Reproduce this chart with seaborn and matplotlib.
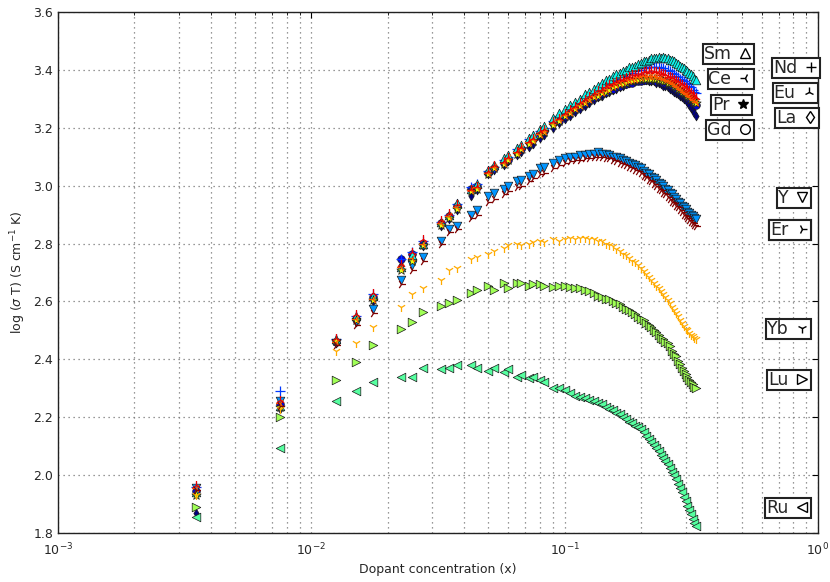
import matplotlib
matplotlib.use("Agg")
import matplotlib.pyplot as plt
from matplotlib.lines import Line2D
from matplotlib.ticker import MultipleLocator
import pandas as pd
import seaborn as sns

# Dopant concentrations (mole fraction)
x_low = [0.0035, 0.0075, 0.0125, 0.015, 0.0175, 0.0225, 0.025, 0.0275,
         0.0325, 0.035, 0.0375, 0.0425, 0.045]
x_dense = [0.050, 0.0525, 0.0575, 0.060, 0.065, 0.0675, 0.0725, 0.075, 0.080, 0.0825, 0.090, 0.095,
           0.100, 0.105, 0.110, 0.115, 0.120, 0.125, 0.130, 0.135, 0.140, 0.145,
           0.150, 0.155, 0.160, 0.165, 0.170, 0.175, 0.180, 0.185, 0.190, 0.195,
           0.200, 0.205, 0.210, 0.215, 0.220, 0.225, 0.230, 0.235, 0.240, 0.245,
           0.250, 0.255, 0.260, 0.265, 0.270, 0.275, 0.280, 0.285, 0.290, 0.295,
           0.300, 0.305, 0.310, 0.315, 0.320, 0.325, 0.330]
conc = x_low + x_dense

# log(sigma*T) for each dopant
la = [1.87, 2.23, 2.455, 2.53, 2.60, 2.725, 2.75, 2.79, 2.86, 2.885, 2.915, 2.965, 2.985,
      3.04, 3.055, 3.07, 3.085, 3.105, 3.115, 3.135, 3.145, 3.165, 3.175, 3.20, 3.215,
      3.23, 3.24, 3.255, 3.265, 3.275, 3.285, 3.295, 3.305, 3.31, 3.32,
      3.325, 3.33, 3.335, 3.34, 3.345, 3.35, 3.355, 3.36, 3.36, 3.365,
      3.365, 3.365, 3.365, 3.36, 3.36, 3.36, 3.355, 3.355, 3.35, 3.345,
      3.345, 3.34, 3.335, 3.33, 3.325, 3.32, 3.315, 3.31, 3.305, 3.30,
      3.295, 3.29, 3.28, 3.27, 3.26, 3.25, 3.24]
gd = [1.945, 2.245, 2.46, 2.54, 2.615, 2.745, 2.765, 2.80, 2.87, 2.895, 2.93, 2.99, 3.00,
      3.045, 3.06, 3.08, 3.09, 3.115, 3.125, 3.15, 3.16, 3.18, 3.19, 3.215, 3.225,
      3.24, 3.255, 3.265, 3.275, 3.285, 3.295, 3.305, 3.31, 3.32, 3.325,
      3.33, 3.335, 3.34, 3.345, 3.35, 3.35, 3.355, 3.355, 3.36, 3.36,
      3.36, 3.365, 3.365, 3.365, 3.365, 3.365, 3.36, 3.36, 3.36, 3.355,
      3.355, 3.35, 3.35, 3.345, 3.34, 3.335, 3.33, 3.325, 3.32, 3.315,
      3.31, 3.305, 3.30, 3.295, 3.29, 3.285, 3.28]
nd = [1.96, 2.29, 2.47, 2.55, 2.625, 2.745, 2.77, 2.81, 2.875, 2.90, 2.935, 2.995, 3.005,
      3.05, 3.065, 3.09, 3.10, 3.125, 3.135, 3.16, 3.17, 3.19, 3.20, 3.225, 3.24,
      3.255, 3.27, 3.28, 3.29, 3.305, 3.315, 3.32, 3.33, 3.34, 3.35,
      3.355, 3.36, 3.37, 3.375, 3.38, 3.385, 3.39, 3.39, 3.395, 3.40,
      3.40, 3.405, 3.405, 3.41, 3.41, 3.41, 3.41, 3.41, 3.405, 3.405,
      3.40, 3.40, 3.395, 3.39, 3.385, 3.38, 3.375, 3.37, 3.365, 3.36,
      3.355, 3.35, 3.345, 3.34, 3.33, 3.325, 3.32]
y_ = [1.955, 2.255, 2.455, 2.53, 2.575, 2.675, 2.725, 2.755, 2.81, 2.85, 2.86, 2.90, 2.915,
      2.965, 2.975, 2.99, 3.00, 3.015, 3.02, 3.035, 3.04, 3.06, 3.065, 3.08, 3.09,
      3.095, 3.10, 3.10, 3.105, 3.105, 3.11, 3.11, 3.115, 3.11, 3.11,
      3.105, 3.10, 3.10, 3.095, 3.09, 3.085, 3.08, 3.075, 3.07, 3.065,
      3.06, 3.05, 3.045, 3.04, 3.03, 3.025, 3.02, 3.01, 3.005, 3.00,
      2.99, 2.985, 2.975, 2.97, 2.96, 2.955, 2.945, 2.94, 2.93, 2.925,
      2.92, 2.91, 2.905, 2.90, 2.895, 2.89, 2.885]
sm = [1.94, 2.24, 2.47, 2.55, 2.62, 2.72, 2.76, 2.80, 2.875, 2.90, 2.94, 2.99, 3.005,
      3.055, 3.07, 3.095, 3.105, 3.13, 3.14, 3.165, 3.175, 3.195, 3.205, 3.235, 3.25,
      3.265, 3.28, 3.29, 3.30, 3.315, 3.325, 3.335, 3.345, 3.355, 3.365,
      3.37, 3.38, 3.385, 3.39, 3.395, 3.40, 3.41, 3.41, 3.415, 3.42,
      3.425, 3.43, 3.43, 3.435, 3.44, 3.44, 3.44, 3.445, 3.44, 3.445,
      3.44, 3.44, 3.435, 3.435, 3.43, 3.425, 3.42, 3.415, 3.41, 3.405,
      3.40, 3.395, 3.39, 3.385, 3.38, 3.37, 3.365]
ru = [1.855, 2.095, 2.255, 2.29, 2.32, 2.34, 2.34, 2.37, 2.365, 2.37, 2.38, 2.38, 2.37,
      2.36, 2.37, 2.355, 2.365, 2.34, 2.345, 2.335, 2.34, 2.33, 2.32, 2.30, 2.30,
      2.295, 2.285, 2.275, 2.27, 2.265, 2.26, 2.255, 2.25, 2.245, 2.235,
      2.23, 2.225, 2.215, 2.21, 2.20, 2.195, 2.185, 2.18, 2.17, 2.165,
      2.16, 2.15, 2.135, 2.125, 2.115, 2.105, 2.095, 2.085, 2.07, 2.06,
      2.05, 2.04, 2.025, 2.01, 2.00, 1.985, 1.97, 1.955, 1.94, 1.925,
      1.91, 1.895, 1.88, 1.865, 1.85, 1.835, 1.825]
lu = [1.89, 2.20, 2.33, 2.39, 2.45, 2.505, 2.53, 2.565, 2.585, 2.595, 2.605, 2.63, 2.64,
      2.655, 2.64, 2.665, 2.645, 2.665, 2.665, 2.655, 2.66, 2.66, 2.655, 2.65, 2.655,
      2.655, 2.65, 2.645, 2.645, 2.64, 2.635, 2.63, 2.62, 2.615, 2.61,
      2.61, 2.60, 2.595, 2.59, 2.58, 2.575, 2.57, 2.565, 2.555, 2.545,
      2.54, 2.535, 2.525, 2.52, 2.51, 2.50, 2.495, 2.485, 2.475, 2.47,
      2.46, 2.455, 2.445, 2.43, 2.42, 2.41, 2.395, 2.385, 2.37, 2.36,
      2.35, 2.34, 2.33, 2.32, 2.315, 2.305, 2.30]
pr = [1.93, 2.235, 2.465, 2.535, 2.605, 2.71, 2.74, 2.795, 2.865, 2.89, 2.92, 2.98, 2.99,
      3.04, 3.06, 3.075, 3.09, 3.11, 3.125, 3.145, 3.155, 3.175, 3.185, 3.21, 3.225,
      3.24, 3.25, 3.265, 3.275, 3.285, 3.295, 3.305, 3.31, 3.32, 3.325,
      3.33, 3.34, 3.345, 3.35, 3.35, 3.355, 3.36, 3.36, 3.365, 3.365,
      3.37, 3.37, 3.37, 3.37, 3.37, 3.37, 3.37, 3.365, 3.365, 3.36,
      3.36, 3.355, 3.355, 3.35, 3.345, 3.34, 3.335, 3.33, 3.325, 3.32,
      3.315, 3.31, 3.305, 3.30, 3.295, 3.29, 3.285]
yb = [1.93, 2.23, 2.43, 2.455, 2.51, 2.58, 2.625, 2.645, 2.675, 2.71, 2.715, 2.745, 2.755,
      2.765, 2.775, 2.785, 2.795, 2.80, 2.795, 2.80, 2.805, 2.81, 2.805, 2.815, 2.81,
      2.815, 2.82, 2.815, 2.82, 2.82, 2.815, 2.815, 2.81, 2.81, 2.80,
      2.795, 2.79, 2.78, 2.775, 2.765, 2.76, 2.75, 2.74, 2.735, 2.725,
      2.715, 2.705, 2.695, 2.685, 2.675, 2.665, 2.655, 2.645, 2.635, 2.625,
      2.615, 2.605, 2.595, 2.58, 2.57, 2.56, 2.55, 2.535, 2.525, 2.515,
      2.505, 2.50, 2.49, 2.485, 2.48, 2.475, 2.47]
ce = [1.955, 2.25, 2.46, 2.54, 2.61, 2.72, 2.75, 2.80, 2.87, 2.895, 2.925, 2.985, 2.995,
      3.045, 3.065, 3.08, 3.095, 3.115, 3.13, 3.15, 3.16, 3.18, 3.19, 3.215, 3.23,
      3.245, 3.255, 3.27, 3.28, 3.29, 3.30, 3.31, 3.32, 3.325, 3.335,
      3.34, 3.345, 3.35, 3.355, 3.36, 3.365, 3.365, 3.37, 3.37, 3.375,
      3.375, 3.38, 3.38, 3.38, 3.38, 3.38, 3.38, 3.375, 3.375, 3.37,
      3.37, 3.365, 3.36, 3.355, 3.35, 3.345, 3.34, 3.335, 3.33, 3.325,
      3.32, 3.315, 3.31, 3.305, 3.30, 3.295, 3.29]
eu = [1.965, 2.26, 2.475, 2.555, 2.63, 2.73, 2.77, 2.815, 2.88, 2.905, 2.935, 2.99, 3.00,
      3.05, 3.07, 3.085, 3.10, 3.12, 3.135, 3.155, 3.165, 3.19, 3.195, 3.225, 3.235,
      3.25, 3.265, 3.275, 3.29, 3.30, 3.31, 3.32, 3.33, 3.335, 3.345,
      3.35, 3.355, 3.36, 3.37, 3.37, 3.375, 3.38, 3.385, 3.385, 3.39,
      3.39, 3.395, 3.395, 3.395, 3.40, 3.395, 3.395, 3.395, 3.39, 3.39,
      3.385, 3.38, 3.38, 3.375, 3.37, 3.365, 3.36, 3.355, 3.35, 3.345,
      3.34, 3.335, 3.33, 3.325, 3.315, 3.31, 3.305]
er = [1.95, 2.24, 2.45, 2.52, 2.56, 2.66, 2.71, 2.74, 2.80, 2.84, 2.85, 2.89, 2.90,
      2.945, 2.955, 2.97, 2.98, 2.995, 3.00, 3.015, 3.025, 3.04, 3.045, 3.06, 3.07,
      3.08, 3.085, 3.09, 3.09, 3.095, 3.095, 3.10, 3.10, 3.10, 3.095,
      3.095, 3.09, 3.085, 3.08, 3.075, 3.07, 3.065, 3.06, 3.055, 3.05,
      3.045, 3.035, 3.03, 3.02, 3.015, 3.005, 3.00, 2.99, 2.985, 2.975,
      2.97, 2.96, 2.955, 2.945, 2.94, 2.93, 2.925, 2.915, 2.91, 2.90,
      2.895, 2.89, 2.88, 2.875, 2.87, 2.865, 2.86]

# (label, values, marker, marker size) in drawing order
series = [
    ("La", la, "d", 4.5),
    ("Gd", gd, "o", 5.5),
    ("Nd", nd, "+", 6.5),
    ("Y", y_, "v", 6.2),
    ("Sm", sm, "^", 6.2),
    ("Ru", ru, "<", 6.2),
    ("Lu", lu, ">", 6.2),
    ("Pr", pr, "*", 7.0),
    ("Yb", yb, "1", 6.5),
    ("Ce", ce, "3", 6.5),
    ("Eu", eu, "2", 6.5),
    ("Er", er, "4", 6.5),
]

sns.set_style("white")
plt.rcParams["font.family"] = ["DejaVu Sans"]
plt.rcParams["mathtext.fontset"] = "dejavusans"

fig = plt.figure(figsize=(8.3, 5.82), dpi=100)
ax = fig.add_axes([58 / 830, 1 - 533 / 582, 760 / 830, 521 / 582])

cmap = plt.get_cmap("jet")
n = len(series)
for i, (name, vals, mk, ms) in enumerate(series):
    df = pd.DataFrame({"x": conc, "y": vals})
    col = cmap(i / (n - 1))
    kw = dict(x="x", y="y", data=df, ax=ax, marker=mk, s=ms ** 2,
              color=col, legend=False, zorder=3 + i)
    if mk in ("+", "1", "2", "3", "4"):
        sns.scatterplot(linewidth=0.9, **kw)
    else:
        sns.scatterplot(edgecolor="#1a1a1a", linewidth=0.5, **kw)

ax.set_xscale("log")
ax.set_xlim(1e-3, 1)
ax.set_ylim(1.8, 3.6)
ax.yaxis.set_major_locator(MultipleLocator(0.2))
ax.set_xlabel("Dopant concentration (x)", fontsize=9)
ax.set_ylabel(r"log ($\sigma$ T) (S cm$^{-1}$ K)", fontsize=9)

grid_kw = dict(linestyle=(0, (1, 3)), color="#777777", linewidth=0.9)
ax.grid(True, which="major", **grid_kw)
ax.grid(True, which="minor", axis="x", **grid_kw)
ax.tick_params(which="both", direction="in", top=True, right=True, labelsize=9,
               color="black")
ax.tick_params(which="major", length=4, width=0.8)
ax.tick_params(which="minor", length=2, width=0.6)
ax.tick_params(axis="x", which="major", pad=6)
for sp in ax.spines.values():
    sp.set_color("#222222")
    sp.set_linewidth(1.0)
ax.set_axisbelow(True)

# One boxed key per dopant, label first, placed beside its curve
boxes = {
    "Sm": (754, 54), "Ce": (754, 79), "Pr": (752, 105), "Gd": (754, 130),
    "Nd": (820, 68), "Eu": (818, 93), "La": (819, 118),
    "Y": (811, 198), "Er": (811, 230), "Yb": (811, 329), "Lu": (811, 380),
    "Ru": (811, 508),
}
for name, vals, mk, ms in series:
    bx, by = boxes[name]
    filled = mk not in ("+", "1", "2", "3", "4")
    face = "black" if mk == "*" else "white"
    h = Line2D([], [], linestyle="none", marker=mk,
               markersize=7 if mk != "d" else 6.5,
               markerfacecolor=face if filled else "none",
               markeredgecolor="black", markeredgewidth=1.0)
    leg = ax.legend([h], [name], loc="center right",
                    bbox_to_anchor=(bx / 830, 1 - by / 582),
                    bbox_transform=fig.transFigure, borderaxespad=0,
                    markerfirst=False, fontsize=12.5, borderpad=0.05,
                    handlelength=0.9, handletextpad=0.35, fancybox=False,
                    framealpha=1, edgecolor="#222222", frameon=True)
    leg.get_frame().set_linewidth(1.5)
    leg.set_zorder(20)
    ax.add_artist(leg)

fig.savefig("out.png", dpi=100, facecolor="white")
